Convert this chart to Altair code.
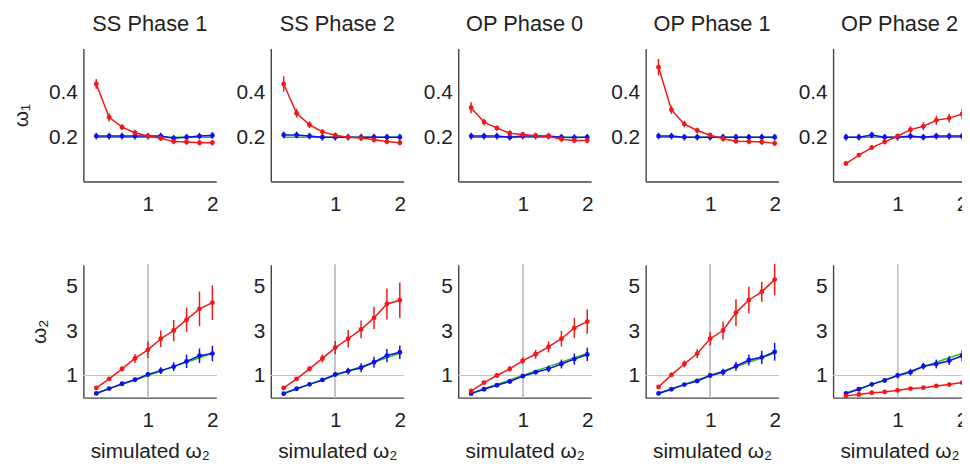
import altair as alt
import pandas as pd

# ---------------- data ----------------
x_sim = [0.2, 0.4, 0.6, 0.8, 1.0, 1.2, 1.4, 1.6, 1.8, 2.0]
panel_titles = ["SS Phase 1", "SS Phase 2", "OP Phase 0", "OP Phase 1", "OP Phase 2"]

w1_true = [0.2, 0.2, 0.2, 0.2, 0.2, 0.2, 0.2, 0.2, 0.2, 0.2]
w2_true = [0.2, 0.4, 0.6, 0.8, 1.0, 1.2, 1.4, 1.6, 1.8, 2.0]

# omega_1 (top row), one list per panel
w1_red = [
    [0.44, 0.29, 0.245, 0.22, 0.205, 0.195, 0.18, 0.178, 0.175, 0.175],
    [0.44, 0.308, 0.256, 0.224, 0.209, 0.2, 0.196, 0.188, 0.18, 0.175],
    [0.333, 0.268, 0.241, 0.218, 0.212, 0.207, 0.204, 0.191, 0.185, 0.185],
    [0.516, 0.323, 0.259, 0.23, 0.209, 0.193, 0.182, 0.18, 0.178, 0.172],
    [0.081, 0.119, 0.153, 0.179, 0.204, 0.234, 0.249, 0.276, 0.286, 0.305],
]
w1_red_err = [
    [0.022, 0.018, 0.013, 0.013, 0.012, 0.012, 0.012, 0.012, 0.012, 0.012],
    [0.035, 0.02, 0.015, 0.013, 0.012, 0.012, 0.012, 0.012, 0.012, 0.012],
    [0.025, 0.015, 0.012, 0.012, 0.012, 0.012, 0.012, 0.012, 0.012, 0.012],
    [0.037, 0.018, 0.015, 0.013, 0.012, 0.012, 0.012, 0.012, 0.012, 0.012],
    [0.006, 0.008, 0.01, 0.012, 0.012, 0.015, 0.018, 0.02, 0.02, 0.022],
]
w1_blue = [
    [0.205, 0.205, 0.205, 0.205, 0.205, 0.205, 0.195, 0.2, 0.205, 0.208],
    [0.21, 0.21, 0.205, 0.2, 0.2, 0.2, 0.2, 0.2, 0.2, 0.2],
    [0.205, 0.205, 0.205, 0.2, 0.205, 0.205, 0.205, 0.2, 0.198, 0.2],
    [0.205, 0.205, 0.2, 0.2, 0.2, 0.2, 0.2, 0.2, 0.2, 0.2],
    [0.2, 0.2, 0.21, 0.2, 0.2, 0.205, 0.2, 0.205, 0.205, 0.205],
]
w1_blue_err = [
    [0.015, 0.015, 0.015, 0.015, 0.015, 0.015, 0.015, 0.015, 0.015, 0.015],
    [0.015, 0.015, 0.015, 0.015, 0.015, 0.015, 0.015, 0.015, 0.015, 0.015],
    [0.015, 0.015, 0.015, 0.015, 0.015, 0.015, 0.015, 0.015, 0.015, 0.015],
    [0.015, 0.015, 0.015, 0.015, 0.015, 0.015, 0.015, 0.015, 0.015, 0.015],
    [0.015, 0.015, 0.015, 0.015, 0.015, 0.015, 0.015, 0.015, 0.015, 0.015],
]

# omega_2 (bottom row)
w2_red = [
    [0.44, 0.85, 1.3, 1.77, 2.16, 2.66, 3.03, 3.52, 4.01, 4.29],
    [0.44, 0.85, 1.3, 1.77, 2.26, 2.66, 3.08, 3.6, 4.23, 4.4],
    [0.3, 0.68, 1.0, 1.3, 1.67, 1.96, 2.29, 2.66, 3.15, 3.43],
    [0.48, 1.03, 1.52, 1.99, 2.66, 3.03, 3.84, 4.41, 4.78, 5.33],
    [0.08, 0.14, 0.22, 0.26, 0.33, 0.41, 0.45, 0.53, 0.59, 0.68],
]
w2_red_err = [
    [0.05, 0.08, 0.12, 0.2, 0.37, 0.37, 0.48, 0.55, 0.78, 0.78],
    [0.05, 0.08, 0.12, 0.18, 0.3, 0.4, 0.4, 0.5, 0.7, 0.8],
    [0.05, 0.07, 0.1, 0.12, 0.15, 0.2, 0.25, 0.35, 0.45, 0.55],
    [0.06, 0.1, 0.15, 0.2, 0.3, 0.4, 0.6, 0.6, 0.45, 0.7],
    [0.03, 0.04, 0.05, 0.05, 0.06, 0.06, 0.07, 0.07, 0.08, 0.08],
]
w2_blue = [
    [0.19, 0.41, 0.63, 0.81, 1.05, 1.22, 1.4, 1.64, 1.89, 1.99],
    [0.18, 0.4, 0.6, 0.8, 1.05, 1.2, 1.35, 1.6, 1.9, 2.05],
    [0.18, 0.38, 0.56, 0.73, 0.97, 1.15, 1.3, 1.52, 1.74, 1.95],
    [0.19, 0.38, 0.59, 0.75, 1.0, 1.15, 1.42, 1.7, 1.82, 2.07],
    [0.19, 0.38, 0.6, 0.78, 1.0, 1.15, 1.42, 1.52, 1.67, 1.89],
]
w2_blue_err = [
    [0.03, 0.05, 0.07, 0.08, 0.1, 0.15, 0.2, 0.3, 0.33, 0.35],
    [0.03, 0.05, 0.07, 0.08, 0.1, 0.15, 0.2, 0.25, 0.3, 0.3],
    [0.03, 0.04, 0.05, 0.06, 0.08, 0.1, 0.15, 0.2, 0.25, 0.3],
    [0.03, 0.05, 0.06, 0.08, 0.1, 0.15, 0.2, 0.25, 0.3, 0.4],
    [0.05, 0.06, 0.08, 0.1, 0.12, 0.15, 0.15, 0.2, 0.2, 0.25],
]

# ---------------- styling ----------------
RED = "#f01818"
BLUE = "#1010e8"
GREEN = "#20c020"
FONT = "Liberation Sans"
W, H = 134, 134


def series_df(means, errs):
    return pd.DataFrame({
        "x": x_sim,
        "m": means,
        "lo": [m - e for m, e in zip(means, errs)],
        "hi": [m + e for m, e in zip(means, errs)],
    })


def panel(row, i):
    if row == 0:
        ydom, yvals = [0, 0.6], [0.2, 0.4]
        red, red_e, blue, blue_e, truth = w1_red[i], w1_red_err[i], w1_blue[i], w1_blue_err[i], w1_true
        ytitle = "ω₁" if i == 0 else ""
        xtitle = ""
        yfmt = ".1f"
    else:
        ydom, yvals = [0, 6], [1, 3, 5]
        red, red_e, blue, blue_e, truth = w2_red[i], w2_red_err[i], w2_blue[i], w2_blue_err[i], w2_true
        ytitle = "ω₂" if i == 0 else ""
        xtitle = "simulated ω₂"
        yfmt = "d"

    xs = alt.Scale(domain=[0, 2.06], nice=False, zero=False)
    ys = alt.Scale(domain=ydom, nice=False, zero=False)
    xax = alt.Axis(values=[1, 2], format="d", title=xtitle)
    yax = alt.Axis(values=yvals, format=yfmt, title=ytitle)

    X = alt.X("x:Q", scale=xs, axis=xax)
    Y = alt.Y("m:Q", scale=ys, axis=yax)

    layers = []
    truth_df = pd.DataFrame({"x": x_sim, "m": truth})
    if row == 1:
        layers.append(alt.Chart(truth_df).mark_rule(color="#c4c4c4", strokeWidth=1)
                      .encode(x=alt.datum(1, scale=xs, axis=xax)))
        layers.append(alt.Chart(truth_df).mark_rule(color="#c4c4c4", strokeWidth=1)
                      .encode(y=alt.datum(1, scale=ys, axis=yax)))
    layers.append(alt.Chart(truth_df).mark_line(color=GREEN, strokeWidth=1.5).encode(x=X, y=Y))

    for means, errs, col in [(blue, blue_e, BLUE), (red, red_e, RED)]:
        d = series_df(means, errs)
        base = alt.Chart(d)
        layers.append(base.mark_rule(color=col, strokeWidth=1.5).encode(
            x=X, y=alt.Y("lo:Q", scale=ys, axis=yax), y2="hi:Q"))
        layers.append(base.mark_line(color=col, strokeWidth=1.5).encode(x=X, y=Y))
        layers.append(base.mark_circle(color=col, size=24, opacity=1).encode(x=X, y=Y))

    ch = alt.layer(*layers).properties(width=W, height=H)
    if row == 0:
        ch = ch.properties(title=alt.TitleParams(panel_titles[i], fontSize=22, font=FONT,
                                                 fontWeight="normal", color="#222", offset=13))
    return ch


charts = [panel(0, i) for i in range(5)] + [panel(1, i) for i in range(5)]

chart = alt.ConcatChart(
    concat=charts, columns=5, bounds="flush",
    spacing={"row": 84, "column": 55},
).properties(
    autosize=alt.AutoSizeParams(type="none"),
    padding={"left": 76, "top": 39, "right": 886, "bottom": 419},
).configure_view(stroke=None).configure_axis(
    grid=False, ticks=False, domainColor="#444", domainWidth=1.4,
    labelFont=FONT, labelFontSize=21, labelColor="#222",
    titleFont=FONT, titleFontSize=21, titleColor="#222", titleFontWeight="normal",
).configure_axisY(labelPadding=6, titlePadding=17).configure_axisX(labelPadding=12, titlePadding=10)

chart.save("out.html", embed_options={"renderer": "svg", "actions": False})
